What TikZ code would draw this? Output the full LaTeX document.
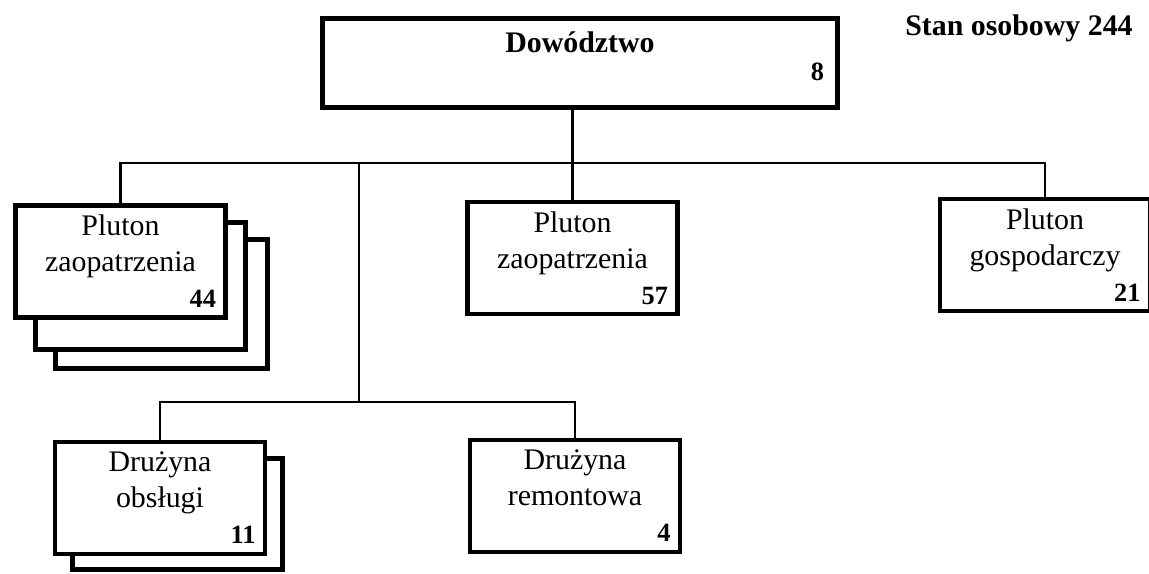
\documentclass[tikz,border=0pt]{standalone}
\usepackage{fontspec}
\setmainfont{Liberation Serif}
\usetikzlibrary{calc}
\newcommand{\liczba}[1]{\hspace*{0pt plus 1filll}{\fontsize{15}{20.5}\selectfont\bfseries #1}}

\begin{document}
\begin{tikzpicture}[x=0.02cm, y=-0.02cm,
    unit/.style={rectangle, draw=black, fill=white, line width=2.8pt, minimum width=4.2cm, minimum height=2.24cm, text width=3.82cm, inner xsep=0.19cm, inner ysep=0pt, align=center, font=\fontsize{17}{20.5}\selectfont},
    copy/.style={rectangle, draw=black, fill=white, line width=2.8pt, minimum width=4.2cm, inner sep=0pt},
    link/.style={draw=black, line width=1.4pt}
]
    \useasboundingbox (0,0) rectangle (1149,574);

    % Nodes
    \node[unit, minimum width=10.3cm, minimum height=1.78cm, text width=9.76cm, inner xsep=0.27cm, font=\fontsize{17}{16}\selectfont\bfseries] (dow) at (580,63) {Dowództwo\\\liczba{8}\rule[-0.28cm]{0pt}{0pt}};
    \node[font=\fontsize{17}{20}\selectfont\bfseries, anchor=base] (stan) at (1019,36) {Stan osobowy 244};

    \node[copy, minimum height=2.58cm, minimum width=4.24cm] (pz1c) at (161.5,304) {};
    \node[copy, minimum height=2.54cm] (pz1b) at (140.5,286) {};
    \node[unit] (pz1) at (120.5,261.5) {Pluton\\zaopatrzenia\\\liczba{44}};
    \node[unit] (pz2) at (572.5,258) {Pluton\\zaopatrzenia\\\liczba{57}};
    \node[unit] (pg) at (1045,255) {Pluton\\gospodarczy\\\liczba{21}};

    \node[copy, minimum height=2.22cm] (obsl2) at (177.5,514) {};
    \node[unit] (obsl) at (160,498) {Drużyna\\obsługi\\\liczba{11}};
    \node[unit] (rem) at (575,496) {Drużyna\\remontowa\\\liczba{4}};

    \coordinate (bus) at (572,163);
    \coordinate (split) at (359,163);
    \coordinate (bus2) at (359,402);

    % Lines
    \draw[link] (pz2.north |- dow.south) -- (pz2.north);
    \draw[link] (pz1.north) |- (pg.north |- bus) -- (pg.north);
    \draw[link] (split) -- (bus2);
    \draw[link] (obsl.north) |- (rem.north |- bus2) -- (rem.north);
\end{tikzpicture}
\end{document}
